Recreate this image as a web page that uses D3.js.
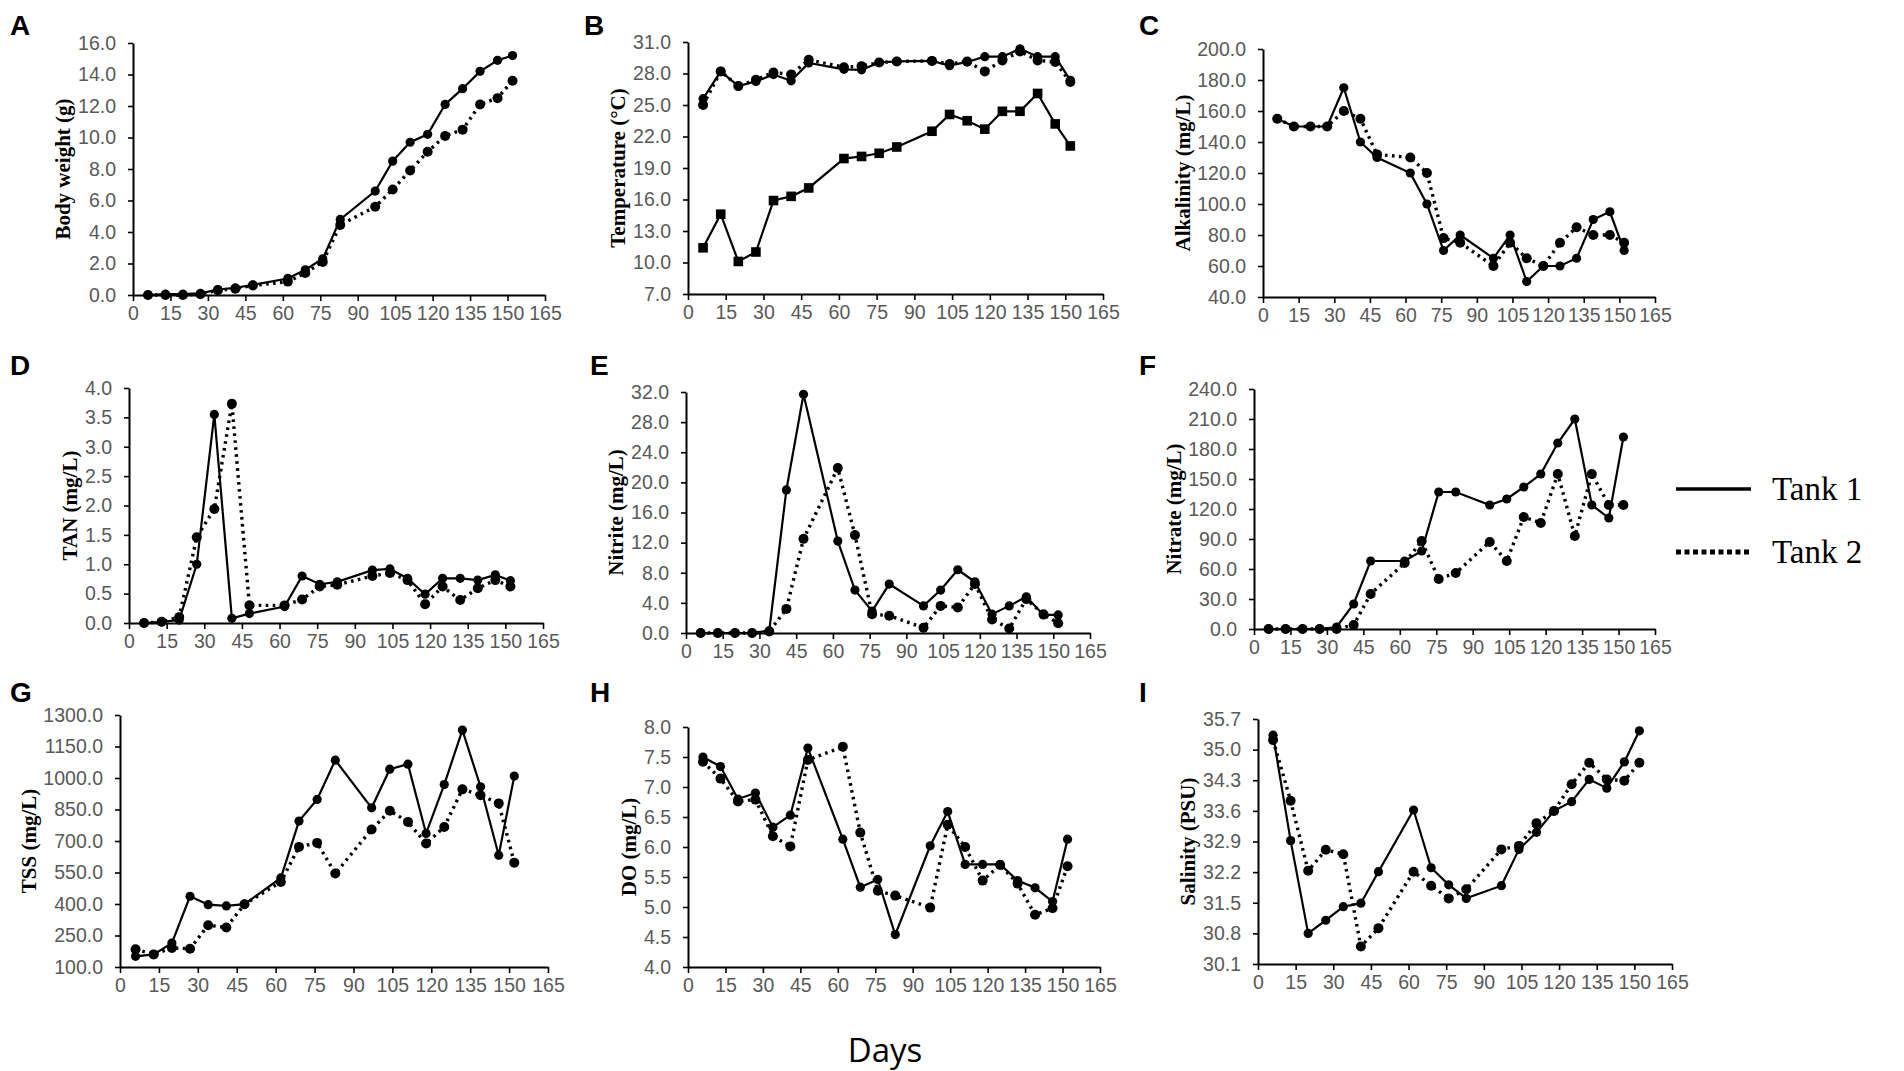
<!DOCTYPE html>
<html>
<head>
<meta charset="utf-8">
<script src="https://cdn.jsdelivr.net/npm/d3@7"></script>
<style>
  body { margin: 0; background: #fff; }
</style>
</head>
<body>
<script>
'use strict';

// dias de amostragem e ticks do eixo X (comum a todos os paineis)
const dias = [6, 13, 20, 27, 34, 41, 48, 62, 69, 76, 83, 97, 104, 111, 118, 125, 132, 139, 146, 152]
const diasTicks = [0, 15, 30, 45, 60, 75, 90, 105, 120, 135, 150, 165]

// A - peso corporal
const pesoT1 = [0.0, 0.05, 0.05, 0.1, 0.35, 0.45, 0.65, 1.05, 1.6, 2.3, 4.8, 6.6, 8.5, 9.7, 10.2, 12.1, 13.1, 14.2, 14.9, 15.2]
const pesoT2 = [0.0, 0.0, 0.0, 0.05, 0.3, 0.4, 0.6, 0.85, 1.4, 2.1, 4.45, 5.6, 6.7, 7.9, 9.1, 10.1, 10.5, 12.1, 12.5, 13.6]
const pesoTicks = [0, 2, 4, 6, 8, 10, 12, 14, 16]

// B - temperatura (tanques + ambiente)
const tempT1 = [25.6, 28.2, 26.8, 27.25, 27.9, 27.3, 29.0, 28.4, 28.35, 29.05, 29.15, 29.2, 28.75, 29.1, 29.6, 29.6, 30.35, 29.6, 29.6, 27.35]
const tempT2 = [25.0, 28.2, 26.8, 27.4, 28.1, 27.9, 29.3, 28.6, 28.7, 29.05, 29.15, 29.2, 28.9, 29.15, 28.2, 29.25, 30.1, 29.25, 29.1, 27.2]
const tempAmb = [11.4, 14.6, 10.1, 11.0, 15.9, 16.3, 17.1, 19.9, 20.1, 20.4, 21.0, 22.5, 24.1, 23.5, 22.7, 24.4, 24.4, 26.1, 23.2, 21.1]
const tempTicks = [7, 10, 13, 16, 19, 22, 25, 28, 31]

// C - alcalinidade
const alcT1 = [155, 150, 150, 150, 175, 140, 130, 120, 100, 70, 80, 65, 80, 50, 60, 60, 65, 90, 95, 70]
const alcT2 = [155, 150, 150, 150, 160, 155, 132, 130, 120, 78, 75, 60, 75, 65, 60, 75, 85, 80, 80, 75]
const alcTicks = [40, 60, 80, 100, 120, 140, 160, 180, 200]

// D - TAN
const tanT1 = [0.0, 0.02, 0.05, 1.0, 3.55, 0.08, 0.16, 0.28, 0.8, 0.66, 0.7, 0.9, 0.92, 0.76, 0.49, 0.76, 0.76, 0.73, 0.82, 0.72]
const tanT2 = [0.0, 0.02, 0.1, 1.46, 1.94, 3.73, 0.3, 0.3, 0.4, 0.62, 0.65, 0.8, 0.85, 0.73, 0.32, 0.62, 0.39, 0.59, 0.73, 0.62]
const tanTicks = [0, 0.5, 1, 1.5, 2, 2.5, 3, 3.5, 4]

// E - nitrito
const nitT1 = [0, 0, 0, 0, 0.3, 19.0, 31.7, 12.2, 5.7, 2.9, 6.5, 3.6, 5.7, 8.4, 6.8, 2.5, 3.6, 4.8, 2.4, 2.4]
const nitT2 = [0, 0, 0, 0, 0.2, 3.2, 12.5, 21.9, 13.0, 2.5, 2.3, 0.7, 3.6, 3.4, 6.5, 1.8, 0.6, 4.5, 2.5, 1.3]
const nitTicks = [0, 4, 8, 12, 16, 20, 24, 28, 32]

// F - nitrato
const natT1 = [0, 0, 0, 0, 2, 25, 68, 68, 78, 137, 137, 124, 130, 142, 155, 186, 210, 124, 111, 192]
const natT2 = [0, 0, 0, 0, 0, 4, 35, 66, 88, 50, 56, 87, 68, 112, 106, 155, 93, 155, 124, 124]
const natTicks = [0, 30, 60, 90, 120, 150, 180, 210, 240]

// G - TSS
const tssT1 = [151, 160, 214, 437, 397, 391, 399, 524, 795, 898, 1085, 858, 1042, 1066, 736, 969, 1228, 958, 632, 1009]
const tssT2 = [184, 160, 191, 187, 299, 288, 399, 505, 672, 691, 545, 755, 844, 791, 688, 767, 946, 918, 879, 597]
const tssTicks = [100, 250, 400, 550, 700, 850, 1000, 1150, 1300]

// H - oxigenio dissolvido
const odT1 = [7.5, 7.34, 6.8, 6.9, 6.33, 6.53, 7.65, 6.13, 5.33, 5.46, 4.54, 6.02, 6.59, 5.71, 5.71, 5.71, 5.44, 5.32, 5.09, 6.13]
const odT2 = [7.42, 7.14, 6.76, 6.79, 6.18, 6.01, 7.45, 7.67, 6.24, 5.27, 5.19, 4.99, 6.37, 6.0, 5.44, 5.7, 5.39, 4.87, 4.98, 5.68]
const odTicks = [4, 4.5, 5, 5.5, 6, 6.5, 7, 7.5, 8]

// I - salinidade
const salT1 = [35.33, 32.92, 30.8, 31.1, 31.41, 31.49, 32.21, 33.62, 32.3, 31.91, 31.6, 31.89, 32.72, 33.11, 33.6, 33.81, 34.32, 34.12, 34.72, 35.43]
const salT2 = [35.22, 33.83, 32.23, 32.71, 32.61, 30.5, 30.92, 32.21, 31.89, 31.6, 31.81, 32.72, 32.8, 33.32, 33.6, 34.21, 34.7, 34.32, 34.29, 34.7]
const salTicks = [30.1, 30.8, 31.5, 32.2, 32.9, 33.6, 34.3, 35.0, 35.7]

const legendaNomes = ['Tank 1', 'Tank 2']

const LARGURA = 1904
const ALTURA = 1071

class Painel {
    constructor (svg, cfg) {
        this.svg = svg
        this.cfg = cfg
        this.g = svg.append('g')
        this.criaEscalas()
        this.criaEixos()
        this.desenhaSeries()
    }

    criaEscalas() {
        let c = this.cfg
        this.x = d3.scaleLinear().domain([0, 165]).range([c.x0, c.x1])
        this.y = d3.scaleLinear()
            .domain([c.ticks[0], c.ticks[c.ticks.length - 1]])
            .range([c.y1, c.y0])
    }

    criaEixos() {
        let c = this.cfg
        let eixoX = d3.axisBottom(this.x).tickValues(diasTicks)
            .tickSize(6).tickSizeOuter(0).tickPadding(5).tickFormat(d3.format('d'))
        let eixoY = d3.axisLeft(this.y).tickValues(c.ticks)
            .tickSize(5).tickSizeOuter(0).tickPadding(12).tickFormat(d3.format('.1f'))

        let gx = this.g.append('g')
            .attr('transform', `translate(0, ${c.y1})`)
            .call(eixoX)
        let gy = this.g.append('g')
            .attr('transform', `translate(${c.x0}, 0)`)
            .call(eixoY)

        for (let ga of [gx, gy]) {
            ga.attr('font-family', '"Liberation Sans", Arial, sans-serif')
                .attr('font-size', 19.5)
            ga.select('.domain').attr('stroke', '#000').attr('stroke-width', 2)
            ga.selectAll('.tick line').attr('stroke', '#000').attr('stroke-width', 1.6)
            ga.selectAll('.tick text').attr('fill', '#595959')
        }

        // titulo do eixo Y, a esquerda dos rotulos
        let bb = gy.node().getBBox()
        let cx = c.x0 + bb.x - 15
        let cy = (c.y0 + c.y1) / 2
        this.g.append('text')
            .attr('transform', `translate(${cx}, ${cy}) rotate(-90)`)
            .attr('text-anchor', 'middle')
            .attr('dy', '0.35em')
            .attr('font-family', '"Liberation Serif", "Times New Roman", serif')
            .attr('font-weight', 'bold')
            .attr('font-size', 21)
            .text(c.titulo)

        // letra do painel
        this.svg.append('text')
            .attr('x', c.lx).attr('y', c.ly)
            .attr('font-family', '"Liberation Sans", Arial, sans-serif')
            .attr('font-weight', 'bold')
            .attr('font-size', 28)
            .text(c.letra)
    }

    desenhaSeries() {
        for (let s of this.cfg.series) {
            let pontos = dias.map((d, i) => ({x: d, y: s.valores[i]}))
            let linha = d3.line().x(d => this.x(d.x)).y(d => this.y(d.y))
            let path = this.g.append('path')
                .datum(pontos)
                .attr('d', linha)
                .attr('fill', 'none')
                .attr('stroke', '#000')
            if (s.tracejado) {
                path.attr('stroke-width', 3.4).attr('stroke-dasharray', '2.6,4.4')
            } else {
                path.attr('stroke-width', 2.2)
            }
            if (s.quadrado) {
                this.g.selectAll(null).data(pontos).enter().append('rect')
                    .attr('x', d => this.x(d.x) - 4.8)
                    .attr('y', d => this.y(d.y) - 4.8)
                    .attr('width', 9.6).attr('height', 9.6)
                    .attr('fill', '#000')
            } else {
                this.g.selectAll(null).data(pontos).enter().append('circle')
                    .attr('cx', d => this.x(d.x))
                    .attr('cy', d => this.y(d.y))
                    .attr('r', s.tracejado ? 5 : 4.6)
                    .attr('fill', '#000')
            }
        }
    }
}

function duas(t1, t2) {
    return [{valores: t2, tracejado: true}, {valores: t1, tracejado: false}]
}

const paineis = [
    {letra: 'A', lx: 10, ly: 35, x0: 133, x1: 545, y0: 43, y1: 295, ticks: pesoTicks, titulo: 'Body weight (g)', series: duas(pesoT1, pesoT2)},
    {letra: 'B', lx: 584, ly: 35, x0: 688, x1: 1103, y0: 42, y1: 294, ticks: tempTicks, titulo: 'Temperature (\u00B0C)',
        series: duas(tempT1, tempT2).concat([{valores: tempAmb, tracejado: false, quadrado: true}])},
    {letra: 'C', lx: 1139, ly: 35, x0: 1263, x1: 1655, y0: 49, y1: 297, ticks: alcTicks, titulo: 'Alkalinity (mg/L)', series: duas(alcT1, alcT2)},
    {letra: 'D', lx: 10, ly: 375, x0: 129, x1: 543, y0: 388, y1: 623, ticks: tanTicks, titulo: 'TAN (mg/L)', series: duas(tanT1, tanT2)},
    {letra: 'E', lx: 590, ly: 375, x0: 686, x1: 1090, y0: 392, y1: 633, ticks: nitTicks, titulo: 'Nitrite (mg/L)', series: duas(nitT1, nitT2)},
    {letra: 'F', lx: 1139, ly: 375, x0: 1254, x1: 1655, y0: 389, y1: 629, ticks: natTicks, titulo: 'Nitrate (mg/L)', series: duas(natT1, natT2)},
    {letra: 'G', lx: 10, ly: 702, x0: 120, x1: 548, y0: 715, y1: 967, ticks: tssTicks, titulo: 'TSS (mg/L)', series: duas(tssT1, tssT2)},
    {letra: 'H', lx: 590, ly: 702, x0: 688, x1: 1100, y0: 727, y1: 967, ticks: odTicks, titulo: 'DO (mg/L)', series: duas(odT1, odT2)},
    {letra: 'I', lx: 1139, ly: 702, x0: 1258, x1: 1672, y0: 719, y1: 964, ticks: salTicks, titulo: 'Salinity (PSU)', series: duas(salT1, salT2)}
]

let svg = d3.select('body').append('svg')
    .attr('width', LARGURA)
    .attr('height', ALTURA)
    .style('display', 'block')

for (let cfg of paineis) {
    new Painel(svg, cfg)
}

// legenda
let legenda = svg.append('g')
legendaNomes.forEach((nome, i) => {
    let y = 489 + i * 63
    legenda.append('line')
        .attr('x1', 1676).attr('x2', 1751)
        .attr('y1', y).attr('y2', y)
        .attr('stroke', '#000')
        .attr('stroke-width', i === 0 ? 3.5 : 5)
        .attr('stroke-dasharray', i === 0 ? null : '5,3.5')
    legenda.append('text')
        .attr('x', 1772).attr('y', y + 11)
        .attr('font-family', '"Liberation Serif", "Times New Roman", serif')
        .attr('font-size', 33)
        .text(nome)
})

// rotulo comum do eixo X
svg.append('text')
    .attr('x', 885).attr('y', 1062)
    .attr('text-anchor', 'middle')
    .attr('font-family', '"Open Sans", "Noto Sans", sans-serif')
    .attr('font-size', 33)
    .text('Days')
</script>
</body>
</html>
